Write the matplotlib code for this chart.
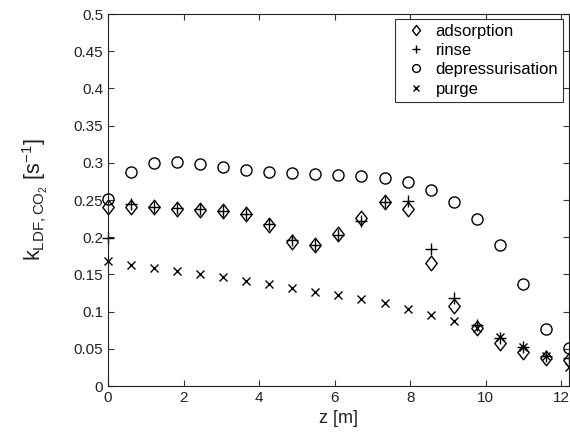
import numpy as np
import matplotlib
matplotlib.use("Agg")
import matplotlib.pyplot as plt
from matplotlib.path import Path

plt.rcParams['font.family'] = ['Liberation Sans', 'DejaVu Sans']
plt.rcParams['mathtext.fontset'] = 'custom'
plt.rcParams['mathtext.rm'] = 'Liberation Sans'
plt.rcParams['mathtext.it'] = 'Liberation Sans'

# axial positions [m]
z = [0.0, 0.61, 1.22, 1.83, 2.44, 3.05, 3.66, 4.27, 4.88, 5.49, 6.1,
     6.71, 7.32, 7.93, 8.54, 9.15, 9.76, 10.37, 10.98, 11.59, 12.2]

adsorption = [0.240, 0.240, 0.240, 0.238, 0.237, 0.235, 0.231, 0.216, 0.194, 0.189, 0.204,
              0.226, 0.247, 0.238, 0.165, 0.107, 0.078, 0.058, 0.046, 0.037, 0.035]
rinse = [0.199, 0.245, 0.241, 0.239, 0.238, 0.235, 0.231, 0.218, 0.196, 0.190, 0.203,
         0.222, 0.247, 0.249, 0.184, 0.118, 0.082, 0.064, 0.052, 0.040, 0.038]
depressurisation = [0.252, 0.288, 0.300, 0.301, 0.298, 0.294, 0.290, 0.288, 0.286, 0.285, 0.284,
                    0.283, 0.280, 0.274, 0.263, 0.247, 0.224, 0.189, 0.137, 0.077, 0.051]
purge = [0.168, 0.163, 0.158, 0.154, 0.150, 0.146, 0.141, 0.137, 0.132, 0.127, 0.122,
         0.117, 0.111, 0.103, 0.096, 0.087, 0.078, 0.066, 0.052, 0.040, 0.025]

# MATLAB-like diamond (a bit taller than wide)
diamond = Path([(0, 1), (0.78, 0), (0, -1), (-0.78, 0), (0, 1)],
               [Path.MOVETO, Path.LINETO, Path.LINETO, Path.LINETO, Path.CLOSEPOLY])

fig = plt.figure(figsize=(5.7, 4.41), dpi=100)
ax = fig.add_axes([0.1895, 0.1247, 0.8085, 0.8433])

ax.plot(z, adsorption, linestyle='none', marker=diamond, markersize=10.5, mfc='none', mec='black', mew=1.0, label='adsorption', clip_on=False)
ax.plot(z, rinse, linestyle='none', marker='+', markersize=8.5, mec='black', mew=1.0, label='rinse', clip_on=False)
ax.plot(z, depressurisation, linestyle='none', marker='o', markersize=8, mfc='none', mec='black', mew=1.0, label='depressurisation', clip_on=False)
ax.plot(z, purge, linestyle='none', marker='x', markersize=6, mec='black', mew=1.0, label='purge', clip_on=False)

ax.set_xlim(0, 12.2)
ax.set_ylim(0, 0.5)
ax.set_xticks([0, 2, 4, 6, 8, 10, 12])
ax.set_yticks(np.arange(0, 0.501, 0.05))
ax.set_yticklabels(['0', '0.05', '0.1', '0.15', '0.2', '0.25', '0.3', '0.35', '0.4', '0.45', '0.5'])
ax.tick_params(direction='in', top=True, right=True, labelsize=11, length=4, color='#333333', labelcolor='#222222')
for s in ax.spines.values():
    s.set_color('#222222')

ax.set_xlabel('z [m]', fontsize=13, color='#222222')
ax.set_ylabel(r'k$_{\mathrm{LDF,CO_2}}$ [s$^{-1}$]', fontsize=15.5, color='#222222', labelpad=17)

leg = ax.legend(loc='upper right', fontsize=12, frameon=True, fancybox=False, edgecolor='black',
                handlelength=1.9, handletextpad=0.25, borderpad=0.3, labelspacing=0.26,
                borderaxespad=0, markerscale=0.7, bbox_to_anchor=(0.988, 0.988))
leg.get_frame().set_linewidth(0.8)

fig.savefig('out.png', dpi=100)
